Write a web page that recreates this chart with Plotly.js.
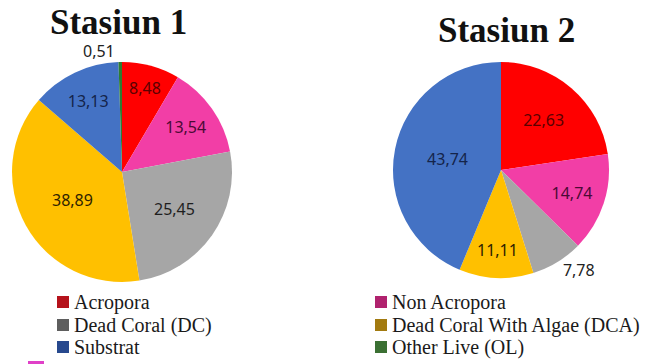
<!DOCTYPE html>
<html>
<head>
<meta charset="utf-8">
<script src="https://cdn.plot.ly/plotly-3.0.1.min.js"></script>
<style>html,body{margin:0;padding:0;background:#fff;}#chart{width:645px;height:364px;}</style>
</head>
<body>
<div id="chart"></div>
<script>
const categories = ['Acropora', 'Non Acropora', 'Dead Coral (DC)', 'Dead Coral With Algae (DCA)', 'Substrat', 'Other Live (OL)'];
const stasiun1 = [8.48, 13.54, 25.45, 38.89, 13.13, 0.51];
const stasiun2 = [22.63, 14.74, 7.78, 11.11, 43.74, 0];
const titles = ['Stasiun 1', 'Stasiun 2'];

const sliceColors = ['#ff0000', '#f23ea6', '#a6a6a6', '#ffc000', '#4472c4', '#2e7d32'];
const labelColors = ['#5a0000', '#4a0a35', '#1e1e1e', '#2e2200', '#14244a', '#222222'];
const legendColors = ['#b5121b', '#b0226e', '#5e5e5e', '#a27a10', '#27498e', '#3b7033'];

const pos1 = ['inside', 'inside', 'inside', 'inside', 'inside', 'outside'];
const pos2 = ['inside', 'inside', 'outside', 'inside', 'inside', 'none'];

const SERIF = "'Liberation Serif', 'Times New Roman', serif";
const SANS = "'Noto Sans', sans-serif";

function pie(values, positions, domain) {
  return {
    type: 'pie',
    labels: categories,
    values: values,
    sort: false,
    direction: 'clockwise',
    rotation: 0,
    marker: {colors: sliceColors, line: {width: 0}},
    texttemplate: values.map(v => v > 0 ? '%{value:.2f}' : ''),
    textposition: positions,
    insidetextorientation: 'horizontal',
    textfont: {family: SANS, size: 16, color: labelColors},
    outsidetextfont: {family: SANS, size: 16, color: '#222222'},
    hoverinfo: 'label+value',
    showlegend: false,
    domain: domain
  };
}

const data = [
  pie(stasiun1, pos1, {x: [0.0186, 0.3597], y: [0.2253, 0.8297]}),
  pie(stasiun2, pos2, {x: [0.6093, 0.9442], y: [0.2363, 0.8297]})
];

const annotations = [
  {text: '<b>' + titles[0] + '</b>', x: 0.183, y: 0.937},
  {text: '<b>' + titles[1] + '</b>', x: 0.786, y: 0.915}
].map(a => Object.assign(a, {
  xref: 'paper', yref: 'paper', xanchor: 'center', yanchor: 'middle', showarrow: false,
  font: {family: SERIF, size: 35, color: '#111111'}
}));

const shapes = [];
const legX = [72, 390];
const legY = [302, 325, 347];
const W = 645, H = 364;
categories.forEach((c, i) => {
  const col = i % 2, row = Math.floor(i / 2);
  const tx = legX[col], ty = legY[row];
  annotations.push({
    text: c, xref: 'paper', yref: 'paper', x: tx / W, y: 1 - ty / H,
    xanchor: 'left', yanchor: 'middle', showarrow: false,
    font: {family: SERIF, size: 20, color: '#1a1a1a'}
  });
  shapes.push({
    type: 'rect', xref: 'paper', yref: 'paper',
    x0: (tx - 15) / W, x1: (tx - 3) / W, y0: 1 - (ty + 6) / H, y1: 1 - (ty - 6) / H,
    fillcolor: legendColors[i], line: {width: 0}
  });
});
shapes.push({type: 'rect', xref: 'paper', yref: 'paper', x0: 28 / W, x1: 44 / W, y0: 0, y1: 3 / H,
  fillcolor: '#e040c8', line: {width: 0}});

const layout = {
  width: 645, height: 364,
  margin: {l: 0, r: 0, t: 0, b: 0},
  paper_bgcolor: '#ffffff',
  separators: ',.',
  showlegend: false,
  annotations: annotations,
  shapes: shapes
};

Plotly.newPlot('chart', data, layout, {displayModeBar: false, staticPlot: true});
</script>
</body>
</html>
